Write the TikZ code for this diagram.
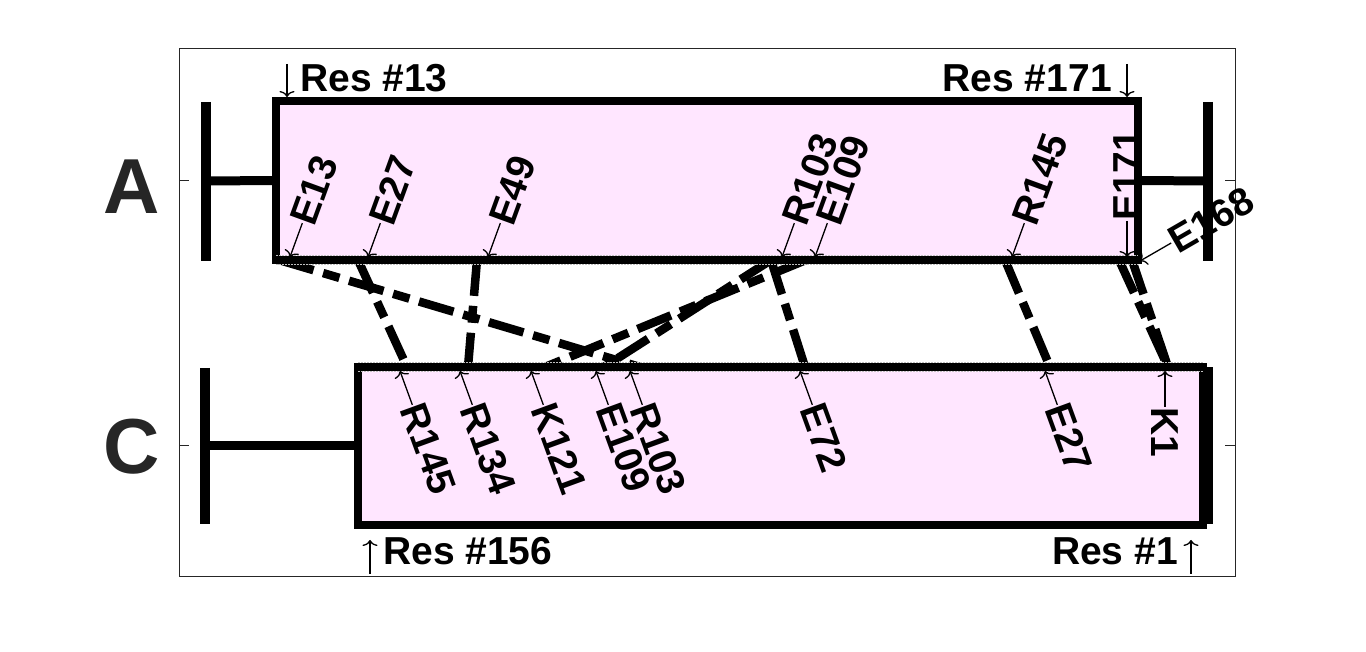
\documentclass[tikz,border=0pt]{standalone}
\usepackage{fontspec}
\setmainfont{Liberation Sans}
\usetikzlibrary{arrows.meta,calc}
\definecolor{pinkfill}{RGB}{255,230,255}
\definecolor{axgray}{RGB}{38,38,38}
\begin{document}
\begin{tikzpicture}[x=1pt,y=1pt,
  lbl/.style={font=\bfseries\fontsize{39}{42}\selectfont, inner sep=0pt, text=black},
  big/.style={font=\bfseries\fontsize{78}{84}\selectfont, inner sep=0pt, text=axgray},
  pin/.style={line width=1.3pt, -{Computer Modern Rightarrow[length=6pt,width=15pt]}},
  xlink/.style={line width=8.5pt, dash pattern=on 36pt off 10pt on 17pt off 10pt},
  prot/.style={draw=black, line width=8pt, fill=pinkfill, inner sep=0pt, outer sep=0pt},
  bar/.style={line width=10pt},
  hline/.style={line width=9pt},
  fringe/.style={draw=black!25, line width=9.5pt, dash pattern=on 1.5pt off 1.5pt},
  axline/.style={draw=axgray, line width=1pt},
]
\fill[white] (0,0) rectangle (1366,651);
\path[use as bounding box] (0,0) rectangle (1366,651);

% axes box and ticks
\draw[axline] (179,74) rectangle (1235,602);
\draw[axline] (179,470) -- (189,470);
\draw[axline] (1225,470) -- (1235,470);
\draw[axline] (179,205) -- (189,205);
\draw[axline] (1225,205) -- (1235,205);

% residue positions on the interface edges
\foreach \n/\x in {E13/279, E27/358, E49/477, R103/771, E109/806, R145/1005, E168/1119, E171/1132}
  {\coordinate (a\n) at (\x,391);}
\foreach \n/\x in {R145/407, R134/468, K121/545, E109/604, R103/640, E72/805, E27/1050, K1/1168}
  {\coordinate (c\n) at (\x,284);}

% cross links
\draw[xlink] (aE13) -- (cR103);
\draw[xlink] (aE27) -- (cR145);
\draw[xlink] (aE49) -- (cR134);
\draw[xlink] (aR103) -- (cE109);
\draw[xlink] (aE109) -- (cK121);
\draw[xlink] (aR103) -- (cE72);
\draw[xlink] (aR145) -- (cE27);
\draw[xlink] (aE171) -- (cK1);
\draw[xlink] (aE168) -- (cK1);

% proteins
\node[prot, minimum width=862pt, minimum height=159pt] (protA) at (707,470.5) {};
\node[prot, minimum width=845pt, minimum height=158pt] (protC) at (780.5,205) {};
\draw[fringe] (protA.south west) -- (protA.south east);
\draw[line width=8pt] ([xshift=-4pt]protA.south west) -- ([xshift=4pt]protA.south east);
\draw[fringe] (protC.north west) -- (protC.north east);
\draw[line width=8pt] ([xshift=-4pt]protC.north west) -- ([xshift=4pt]protC.north east);

% residue labels on A
\foreach \n/\x in {E13/290, E27/368, E49/488, R103/782, E109/815, R145/1012} {
  \coordinate (tA\n) at (\x,394);
  \node[lbl, rotate=70, anchor=west] (lA\n) at ($(tA\n)+(70:36)$) {\n};
  \draw[pin] (lA\n.west) -- (tA\n);
}
\coordinate (tAE171) at (1127,394);
\node[lbl, rotate=90, anchor=west] (lAE171) at ($(tAE171)+(90:36)$) {E171};
\draw[pin] (lAE171.west) -- (tAE171);
\coordinate (tAE168) at (1140,390);
\node[lbl, rotate=30, anchor=west] (lAE168) at ($(tAE168)+(30:36)$) {E168};
\draw[pin] (lAE168.west) -- (tAE168);

% residue labels on C
\foreach \n/\x in {R145/400, R134/460, K121/531, E109/596, R103/630, E72/800, E27/1045} {
  \coordinate (tC\n) at (\x,280);
  \node[lbl, rotate=-70, anchor=west] (lC\n) at ($(tC\n)+(-70:36)$) {\n};
  \draw[pin] (lC\n.west) -- (tC\n);
}
\coordinate (tCK1) at (1165,280);
\node[lbl, rotate=-90, anchor=west] (lCK1) at ($(tCK1)+(-90:36)$) {K1};
\draw[pin] (lCK1.west) -- (tCK1);

% terminal bars
\draw[bar] (205.5,549) -- (205.5,390);
\draw[hline] (205.5,470) -- (protA.west);
\draw[hline] (protA.east) -- (1208,470);
\draw[bar] (1208,549) -- (1208,390);
\draw[bar] (205,283) -- (205,127);
\draw[hline] (205,205) -- (protC.west);
\draw[bar] (1208,283.5) -- (1208,126.5);

% chain letters
\node[big] (labA) at (132,464.5) {A};
\node[big] (labC) at (132,204) {C};

% residue range labels
\node[lbl, anchor=base west] (res13) at (300,559) {Res \#13};
\coordinate (d13a) at (287,587); \coordinate (d13b) at (287,554);
\draw[pin] (d13a) -- (d13b);
\node[lbl, anchor=base east] (res171) at (1112,559) {Res \#171};
\coordinate (d171a) at (1127,587); \coordinate (d171b) at (1127,554);
\draw[pin] (d171a) -- (d171b);
\node[lbl, anchor=base west] (res156) at (383,86) {Res \#156};
\coordinate (u156a) at (370,77); \coordinate (u156b) at (370,111);
\draw[pin] (u156a) -- (u156b);
\node[lbl, anchor=base east] (res1) at (1178,86) {Res \#1};
\coordinate (u1a) at (1191,77); \coordinate (u1b) at (1191,111);
\draw[pin] (u1a) -- (u1b);
\end{tikzpicture}
\end{document}
